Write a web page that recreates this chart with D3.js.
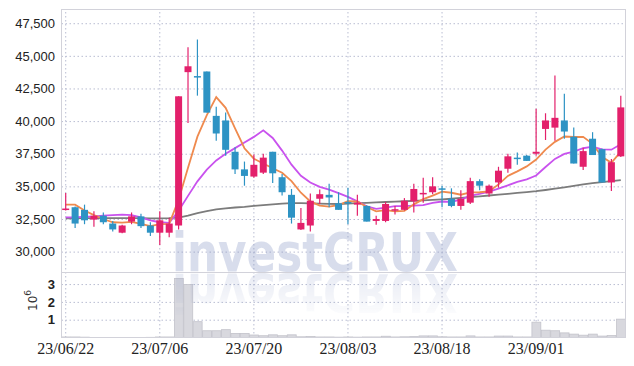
<!DOCTYPE html>
<html>
<head>
<meta charset="utf-8">
<script src="https://cdn.jsdelivr.net/npm/d3@7"></script>
<style>
  body { margin: 0; background: #fff; }
  svg { display: block; }
</style>
</head>
<body>
<svg width="634" height="366"></svg>
<script>
// trading days shown on the chart
const dates = [
  "23/06/22","23/06/23","23/06/26","23/06/27","23/06/28","23/06/29","23/06/30","23/07/03","23/07/04","23/07/05",
  "23/07/06","23/07/07","23/07/10","23/07/11","23/07/12","23/07/13","23/07/14","23/07/17","23/07/18","23/07/19",
  "23/07/20","23/07/21","23/07/24","23/07/25","23/07/26","23/07/27","23/07/28","23/07/31","23/08/01","23/08/02",
  "23/08/03","23/08/04","23/08/07","23/08/08","23/08/09","23/08/10","23/08/11","23/08/14","23/08/16","23/08/17",
  "23/08/18","23/08/21","23/08/22","23/08/23","23/08/24","23/08/25","23/08/28","23/08/29","23/08/30","23/08/31",
  "23/09/01","23/09/04","23/09/05","23/09/06","23/09/07","23/09/08","23/09/11","23/09/12","23/09/13","23/09/14"
];

const open = [
  33200,33400,33200,32450,32750,32150,31450,32300,32700,32000,
  31450,31450,32000,43750,43450,43800,40400,40050,37650,36300,
  35750,36050,37650,35700,34350,31700,32000,34050,34350,33700,
  33800,33600,33500,32350,32350,33150,33200,33850,34400,34550,
  34850,34050,33500,33750,35400,34450,35300,36350,37200,37350,
  37500,39400,39500,40050,38800,36500,38650,37850,35300,37300
];
const high = [
  34500,33450,33600,33100,33000,32350,32050,33000,32900,32250,
  33100,32600,41900,45650,46250,43800,41100,40650,38000,36900,
  37450,37500,37650,35950,34800,33350,34450,34750,35200,34550,
  34900,34350,33550,32750,33800,33500,34100,35200,35650,35700,
  35050,34850,34700,35650,35550,35150,36500,37500,37600,37400,
  40950,40600,43500,42100,39500,37950,39150,37900,37100,41950
];
const low = [
  33150,31800,32100,31900,32100,31550,31400,32100,31800,31200,
  30500,31100,31700,39850,41950,40650,38500,37350,35950,35050,
  35650,35950,35250,34300,32150,31650,31550,33650,33400,33200,
  32100,32750,32300,32050,32250,32850,33150,33000,33750,34400,
  33400,33400,33200,33650,34700,34200,34900,36050,36650,36950,
  37350,38550,38500,38650,36750,36250,37400,35300,34650,37250
];
const close = [
  33300,32150,32400,32750,32250,31700,32000,32700,31950,31450,
  32400,32150,41900,44200,43400,40650,39050,37800,36300,35800,
  36650,37200,36000,34550,32600,32200,33900,34400,34150,33200,
  33700,33750,32300,32500,33650,33250,33900,34800,34500,35000,
  34750,33500,34050,35400,35050,35050,36200,37300,37150,36950,
  37650,40050,40250,39200,36750,37700,37400,35300,36850,41050
];

// volume, millions of shares
const volume = [
  0.03,0.03,0.02,0.005,0.005,0.005,0.005,0.005,0.005,0.01,
  0.03,0.03,3.32,2.98,0.89,0.38,0.38,0.44,0.23,0.23,
  0.14,0.10,0.15,0.10,0.15,0.04,0.06,0.03,0.03,0.02,
  0.03,0.02,0.03,0.03,0.07,0.03,0.04,0.05,0.09,0.09,
  0.04,0.03,0.03,0.09,0.03,0.03,0.08,0.08,0.03,0.03,
  0.86,0.41,0.38,0.26,0.19,0.13,0.19,0.08,0.11,1.03
];

// moving averages as drawn
const ma5 = [
  33600,33600,33150,32800,32500,32250,32220,32280,32120,31960,
  32100,32130,33970,36420,38810,40460,41840,41020,39440,37920,
  37120,36750,36390,36040,35400,34510,33850,33530,33450,33570,
  33870,33840,33420,33090,33180,33090,33120,33620,34020,34290,
  34590,34510,34360,34540,34550,34610,35150,35800,36150,36530,
  37050,37820,38410,38820,38780,38790,38260,37270,36800,37660
];
const ma10 = [
  32620,32620,32670,32700,32750,32800,32830,32800,32620,32400,
  32250,32200,33125,34270,35385,36280,36985,37495,37930,38365,
  38790,39295,38705,37740,36660,35815,35300,34960,34745,34485,
  34190,33845,33475,33270,33375,33480,33480,33520,33555,33735,
  33840,33815,33990,34280,34420,34600,34830,35080,35345,35540,
  35830,36485,37105,37485,37655,37920,38040,37840,37810,38220
];
const ma60 = [
  32550,32550,32560,32560,32570,32570,32570,32560,32560,32550,
  32550,32560,32600,32750,32950,33100,33230,33320,33380,33430,
  33500,33560,33620,33680,33710,33710,33700,33680,33660,33650,
  33680,33710,33740,33770,33800,33830,33860,33890,33920,33960,
  34000,34050,34110,34180,34240,34300,34360,34430,34500,34560,
  34630,34720,34820,34920,35030,35150,35250,35330,35400,35480
];

const priceTicks = [30000, 32500, 35000, 37500, 40000, 42500, 45000, 47500];
const volTicks = [1, 2, 3];
const dateTicks = ["23/06/22","23/07/06","23/07/20","23/08/03","23/08/18","23/09/01"];

const plotL = 61.5, plotR = 625.5, plotT = 9.5, split = 272.5, plotB = 337.5;
const upColor = "#e3206b", downColor = "#2d93c4";

const svg = d3.select("svg");

const x = d3.scaleBand().domain(dates).range([61, 625.5]);
const bw = x.bandwidth();
const cx = d => x(d) + bw / 2;

const y = d3.scaleLinear().domain([28400, 48550]).range([split, plotT]);
const yv = d3.scaleLinear().domain([0, 3.65]).range([plotB, split]);

// grid
const grid = svg.append("g").attr("class", "grid");
grid.append("g")
    .attr("transform", "translate(" + plotL + ",0)")
    .call(d3.axisLeft(y).tickValues(priceTicks).tickSize(-(plotR - plotL)).tickFormat(""));
grid.append("g")
    .attr("transform", "translate(" + plotL + ",0)")
    .call(d3.axisLeft(yv).tickValues(volTicks).tickSize(-(plotR - plotL)).tickFormat(""));
grid.append("g")
    .attr("transform", "translate(0," + plotB + ")")
    .call(d3.axisBottom(x).tickValues(dateTicks).tickSize(-(plotB - plotT)).tickFormat(""));
grid.selectAll(".domain").remove();
grid.selectAll("line")
    .attr("stroke", "#b9bdd2")
    .attr("stroke-width", 1)
    .attr("stroke-dasharray", "1.5,2.5");

// volume bars
svg.append("g")
    .selectAll("rect")
    .data(volume)
    .enter()
    .append("rect")
    .attr("x", (d, i) => x(dates[i]) + 0.5)
    .attr("y", d => yv(d))
    .attr("width", bw - 0.5)
    .attr("height", d => plotB - yv(d))
    .attr("fill", "#d8d8de")
    .attr("stroke", "#c3c3cb")
    .attr("stroke-width", 0.8);

// watermark and its fading reflection
const defs = svg.append("defs");
const grad = defs.append("linearGradient").attr("id", "fade")
    .attr("gradientUnits", "userSpaceOnUse")
    .attr("x1", 0).attr("y1", split).attr("x2", 0).attr("y2", split + 45);
grad.append("stop").attr("offset", 0).attr("stop-color", "#fff").attr("stop-opacity", 0.6);
grad.append("stop").attr("offset", 1).attr("stop-color", "#fff").attr("stop-opacity", 0.05);
defs.append("mask").attr("id", "reflMask")
    .attr("maskUnits", "userSpaceOnUse")
    .attr("x", plotL).attr("y", split).attr("width", plotR - plotL).attr("height", plotB - split)
    .append("rect")
    .attr("x", plotL).attr("y", split).attr("width", plotR - plotL).attr("height", plotB - split)
    .attr("fill", "url(#fade)");

svg.append("text")
    .attr("id", "wm")
    .attr("x", 172).attr("y", 271)
    .attr("textLength", 286).attr("lengthAdjust", "spacingAndGlyphs")
    .attr("font-family", "DejaVu Sans").attr("font-weight", "bold").attr("font-size", 54)
    .attr("fill", "#8897c4").attr("fill-opacity", 0.33)
    .text("investCRUX");

svg.append("g").attr("mask", "url(#reflMask)")
    .append("use")
    .attr("href", "#wm")
    .attr("transform", "translate(0," + (2 * split) + ") scale(1,-1)");

// frame
svg.append("rect")
    .attr("x", plotL).attr("y", plotT).attr("width", plotR - plotL).attr("height", plotB - plotT)
    .attr("fill", "none").attr("stroke", "#d2d2da");
svg.append("line")
    .attr("x1", plotL).attr("x2", plotR).attr("y1", split).attr("y2", split)
    .attr("stroke", "#d2d2da");

// moving averages
const maLine = d3.line().x((d, i) => cx(dates[i])).y(d => y(d));
[[ma60, "#7c7c7c"], [ma10, "#c952ee"], [ma5, "#ef8a4e"]].forEach(([s, c]) => {
  svg.append("path")
      .attr("d", maLine(s))
      .attr("fill", "none")
      .attr("stroke", c)
      .attr("stroke-width", 1.8);
});

// candles
const candles = svg.append("g")
    .selectAll("g")
    .data(dates)
    .enter()
    .append("g");
candles.append("line")
    .attr("x1", d => cx(d)).attr("x2", d => cx(d))
    .attr("y1", (d, i) => y(high[i])).attr("y2", (d, i) => y(low[i]))
    .attr("stroke", (d, i) => close[i] >= open[i] ? upColor : downColor)
    .attr("stroke-width", 1.2);
candles.append("rect")
    .attr("x", d => cx(d) - 3.5)
    .attr("width", 7)
    .attr("y", (d, i) => y(Math.max(open[i], close[i])))
    .attr("height", (d, i) => Math.max(1.5, Math.abs(y(open[i]) - y(close[i]))))
    .attr("fill", (d, i) => close[i] >= open[i] ? upColor : downColor);

// axis labels
const yAxis = svg.append("g")
    .attr("transform", "translate(" + plotL + ",0)")
    .call(d3.axisLeft(y).tickValues(priceTicks).tickSize(0).tickPadding(6.5).tickFormat(d3.format(",")));
const vAxis = svg.append("g")
    .attr("transform", "translate(" + plotL + ",0)")
    .call(d3.axisLeft(yv).tickValues(volTicks).tickSize(0).tickPadding(6.5).tickFormat(d3.format("d")));
const xAxis = svg.append("g")
    .attr("transform", "translate(0," + plotB + ")")
    .call(d3.axisBottom(x).tickValues(dateTicks).tickSize(0).tickPadding(5.5));
[yAxis, vAxis, xAxis].forEach(a => {
  a.select(".domain").remove();
  a.selectAll("text").attr("fill", "#222");
});
yAxis.selectAll("text").attr("font-family", "Liberation Sans").attr("font-size", 13);
vAxis.selectAll("text").attr("font-family", "Liberation Sans").attr("font-size", 13).attr("font-weight", "bold");
xAxis.selectAll("text").attr("font-family", "Liberation Sans Narrow").attr("font-size", 16);

// 10^6 unit label
const unit = svg.append("text")
    .attr("transform", "translate(37,311) rotate(-90)")
    .attr("font-family", "DejaVu Sans")
    .attr("font-size", 12)
    .attr("fill", "#333");
unit.append("tspan").text("10");
unit.append("tspan").attr("dy", -6).attr("font-size", 9).text("6");
</script>
</body>
</html>
